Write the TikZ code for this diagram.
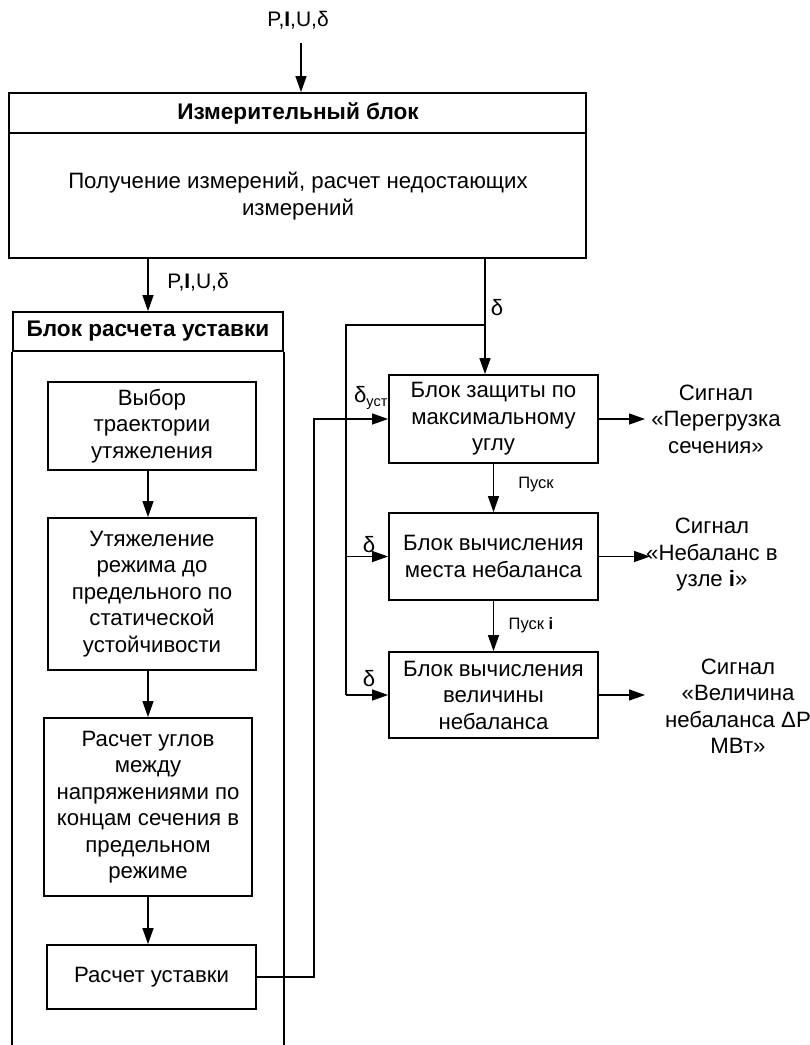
\documentclass[tikz,border=0pt]{standalone}
\usepackage{fontspec}
\setmainfont{Liberation Sans}
\usetikzlibrary{arrows.meta}
\begin{document}
\begin{tikzpicture}[x=1pt,y=-1pt,
  every node/.style={font=\fontsize{22.2}{26.5}\selectfont},
  box/.style={draw, line width=1.8pt, align=center, inner sep=0pt},
  txt/.style={align=center, inner sep=0pt},
  small/.style={inner sep=0pt, font=\fontsize{16.5}{19}\selectfont},
  conn/.style={line width=1.3pt},
  arr/.style={line width=1.3pt, -{Triangle[length=16pt,width=11pt]}}]
\useasboundingbox (0,0) rectangle (810,1045);

% top measuring block
\node[box, minimum width=577, minimum height=165] (top) at (297.5,175.5) {};
\coordinate (hdr) at (0,133);
\draw[line width=1.8pt] (top.west |- hdr) -- (top.east |- hdr);
\node[txt, font=\fontsize{22.6}{26}\selectfont\bfseries] (toph) at (298,113) {Измерительный блок};
\node[txt] (topb) at (298,196) {Получение измерений, расчет недостающих\\измерений};

% input
\node[txt, font=\fontsize{21}{26}\selectfont] (inlbl) at (298,20) {P,\textbf{I},U,δ};
\coordinate (in1) at (301,43);
\draw[arr] (in1) -- (in1 |- top.north);

% container block
\node[box, minimum width=270, minimum height=39, font=\fontsize{22.6}{26}\selectfont\bfseries] (cont) at (148,331.5) {Блок расчета уставки};
\coordinate (cbot) at (0,1045);
\draw[line width=1.8pt] (cont.south west) -- (cont.south west |- cbot);
\draw[line width=1.8pt] (cont.south east) -- (cont.south east |- cbot);
\draw[arr] (top.south -| cont.north) -- (cont.north);
\node[txt, font=\fontsize{21}{26}\selectfont] (pl2) at (198,282) {P,\textbf{I},U,δ};

% inner blocks
\node[box, minimum width=208, minimum height=88] (A) at (152,426) {Выбор\\траектории\\утяжеления};
\node[box, minimum width=208, minimum height=152] (B) at (152,594) {Утяжеление\\режима до\\предельного по\\статической\\устойчивости};
\node[box, minimum width=208, minimum height=178] (C) at (148,807) {Расчет углов\\между\\напряжениями по\\концам сечения в\\предельном\\режиме};
\node[box, minimum width=209, minimum height=64] (D) at (151.5,977) {Расчет уставки};
\coordinate (ax) at (148,0);
\draw[arr] (A.south -| ax) -- (B.north -| ax);
\draw[arr] (B.south -| ax) -- (C.north -| ax);
\draw[arr] (C.south -| ax) -- (D.north -| ax);

% right blocks
\node[box, minimum width=209, minimum height=88] (b1) at (493.5,419) {Блок защиты по\\максимальному\\углу};
\node[box, minimum width=209, minimum height=87] (b2) at (493.5,556.5) {Блок вычисления\\места небаланса};
\node[box, minimum width=209, minimum height=86] (b3) at (493.5,695) {Блок вычисления\\величины\\небаланса};

% delta bus
\coordinate (dx) at (485,325);
\coordinate (bus) at (346,325);
\draw[arr] (top.south -| dx) -- (dx |- b1.north);
\draw[conn] (dx) -- (bus) -- (bus |- b3.west);
\draw[arr] (bus |- b2.west) -- (b2.west);
\draw[arr] (bus |- b3.west) -- (b3.west);
\node[txt] (d0) at (497,308) {δ};
\node[txt] (d2) at (369,545) {δ};
\node[txt] (d3) at (369,679) {δ};

% setpoint line
\coordinate (sx) at (314,0);
\draw[arr] (D.east) -- (D.east -| sx) -- (sx |- b1.west) -- (b1.west);
\node[txt] (dust) at (371,398) {δ\textsubscript{\fontsize{14.5}{16}\selectfont уст}};

% start arrows
\draw[arr] (b1.south) -- (b2.north);
\draw[arr] (b2.south) -- (b3.north);
\node[small] (p1) at (536,485) {Пуск};
\node[small] (p2) at (531,625) {Пуск \textbf{i}};

% outputs
\coordinate (o1) at (645,0);
\coordinate (o2) at (650,0);
\draw[arr] (b1.east) -- (b1.east -| o1);
\draw[arr] (b2.east) -- (b2.east -| o2);
\draw[arr] (b3.east) -- (b3.east -| o1);
\node[txt] (s1) at (716,419) {Сигнал\\«Перегрузка\\сечения»};
\node[txt] (s2) at (712,555) {Сигнал\\«Небаланс в\\узле \textbf{i}»};
\node[txt] (s3) at (738,706) {Сигнал\\«Величина\\небаланса ΔР\\МВт»};
\end{tikzpicture}
\end{document}
